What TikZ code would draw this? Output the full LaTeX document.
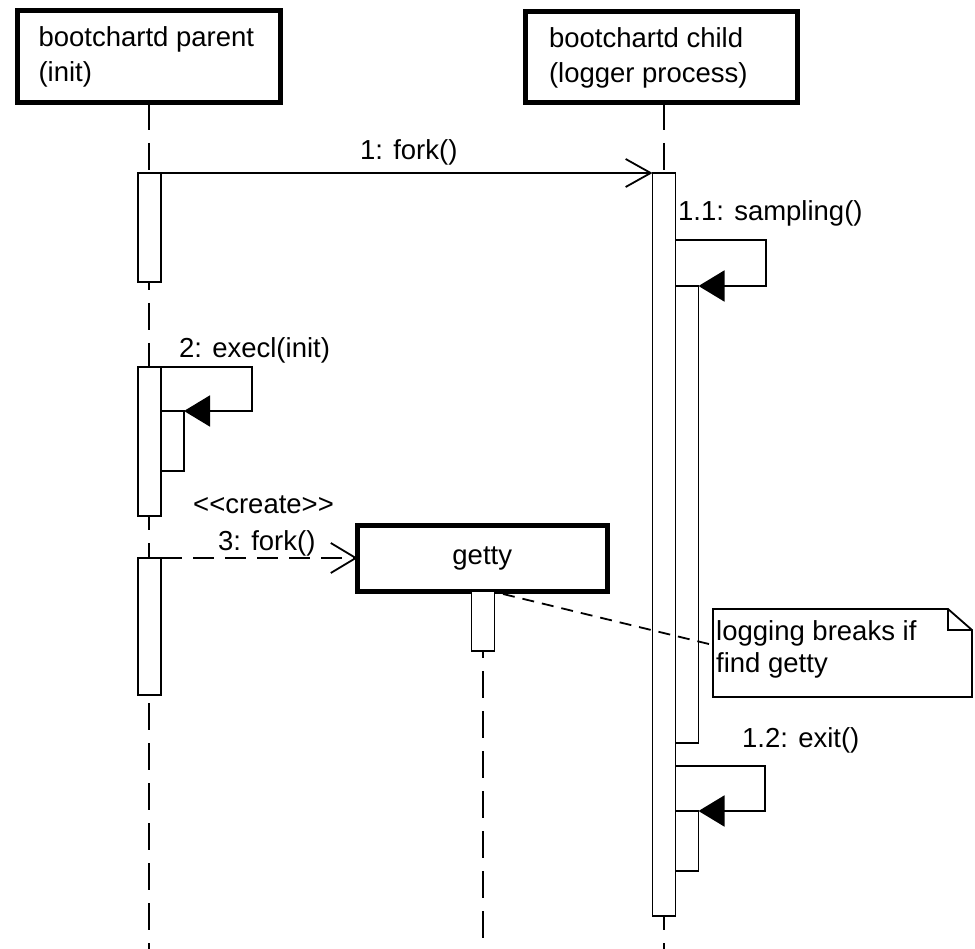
\documentclass[tikz,border=0pt]{standalone}
\usepackage{fontspec}
\newfontfamily\lsans{Liberation Sans}
\usetikzlibrary{arrows.meta,calc}
\begin{document}
\begin{tikzpicture}[x=1pt,y=-1pt,
  font=\lsans\fontsize{27.5}{35}\selectfont,
  obj/.style={draw, line width=5pt, fill=white, inner sep=0pt, outer sep=0pt},
  act/.style={draw, line width=1.8pt, fill=white, inner sep=0pt, outer sep=0pt, minimum width=23pt, anchor=north west},
  life/.style={line width=1.8pt, dash pattern=on 27pt off 13pt},
  lbl/.style={inner sep=0pt, anchor=base west},
  msg/.style={line width=1.8pt},
  sync/.style={msg, -{Triangle[length=26pt,width=31pt]}},
  call/.style={msg, -{Straight Barb[length=25pt,width=28pt]}},
  createmsg/.style={msg, dash pattern=on 21pt off 11pt, -{Straight Barb[length=25pt,width=30pt]}},
  notelink/.style={msg, dash pattern=on 12pt off 8pt},
]
\useasboundingbox (0,0) rectangle (975,949);

% lifeline ends
\coordinate (pb) at (149,949);
\coordinate (cb) at (664,949);
\coordinate (gb) at (483,949);

% object boxes
\node[obj, minimum width=263pt, minimum height=92pt, text width=221pt, align=flush left, anchor=north west] (parent) at (17.5,11) {bootchartd parent\\(init)};
\node[obj, minimum width=272pt, minimum height=91pt, text width=224pt, align=flush left, anchor=north west] (child) at (525,12) {bootchartd child\\(logger process)};

% lifelines
\draw[life] (parent.south) -- (pb);
\draw[life] (cb |- child.south) -- (cb);

% activations
\node[act, minimum height=109pt] (pa1) at (138,173) {};
\node[act, minimum height=149pt] (pa2) at (138,367) {};
\node[act, minimum height=60pt]  (pn)  at (161,411) {};
\node[act, minimum height=137pt] (pa3) at (138,558) {};
\node[act, minimum height=743pt] (ca)  at (652.5,173) {};
\node[act, minimum height=457pt] (cn1) at (675.5,286) {};
\node[act, minimum height=60pt]  (cn2) at (675.5,811) {};

% getty object
\node[obj, minimum width=249.5pt, minimum height=66pt, anchor=north west] (getty) at (357.5,525) {getty};
\draw[life] (gb |- getty.south) -- (gb);
\node[act, minimum height=60pt] (ga) at (471.5,591) {};

% note
\node[inner sep=0pt, outer sep=0pt, minimum width=259pt, minimum height=88pt, anchor=north west] (note) at (713,609) {};
\draw[msg, fill=white] (note.north west) -- ++(235,0) -- ($(note.north east)+(0,21)$) -- (note.south east) -- (note.south west) -- cycle;
\draw[msg] ($(note.north west)+(235,0)$) -- ++(0,21) -- ($(note.north east)+(0,21)$);
\node[lbl] (nt1) at (716,640) {logging breaks if};
\node[lbl] (nt2) at (716,672) {find getty};
\coordinate (gc) at (503,594);
\coordinate (nc) at (713,645);
\draw[notelink] (gc) -- (nc);

% messages
\draw[call] (pa1.north east) -- (ca.north west);
\node[lbl] (l1) at (360,160) {1: fork()};

\coordinate (s1) at (675.5,240);
\draw[sync] (s1) -| (766,286) -- (cn1.north east);
\node[lbl] (l11) at (678,221) {1.1: sampling()};

\coordinate (s2) at (161,367);
\draw[sync] (s2) -| (252,411) -- (pn.north east);
\node[lbl] (l2) at (179,358) {2: execl(init)};

\draw[createmsg] (pa3.north east) -- (getty.west);
\node[lbl] (l3a) at (193,513) {<<create>>};
\node[lbl] (l3) at (218,550) {3: fork()};

\coordinate (s3) at (675.5,766);
\draw[sync] (s3) -| (765,811) -- (cn2.north east);
\node[lbl] (l12) at (742,747) {1.2: exit()};
\end{tikzpicture}
\end{document}
